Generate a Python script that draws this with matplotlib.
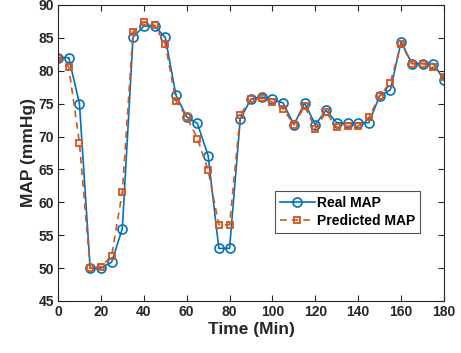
import numpy as np
import matplotlib
matplotlib.use('Agg')
import matplotlib.pyplot as plt

# Donnees (pas de 5 min)
time_min = np.arange(0, 181, 5)
real_map = [82, 82, 75, 50, 50, 50.9, 56, 85.1, 86.8, 86.8, 85.1, 76.3, 73.0,
            72.0, 67.1, 53.0, 53.0, 72.7, 75.7, 76.0, 75.7, 75.1, 71.8, 75.1,
            71.8, 74.0, 72.1, 72.0, 72.1, 72.1, 76.2, 77.1, 84.4, 81.1, 81.1,
            81.1, 78.6]
pred_map = [82, 80.6, 69.0, 50, 50.2, 51.85, 61.6, 85.9, 87.4, 86.9, 84.1, 75.4,
            73.0, 69.7, 64.9, 56.6, 56.6, 73.3, 75.7, 75.8, 75.25, 74.2, 71.8,
            74.6, 71.2, 73.7, 71.4, 71.6, 71.6, 72.9, 76.2, 78.2, 84.1, 81.1,
            81.1, 80.5, 79.0]

x_ticks = np.arange(0, 181, 20)
y_ticks = np.arange(45, 91, 5)

plt.rcParams['font.family'] = ['Liberation Sans', 'DejaVu Sans']
plt.rcParams['font.weight'] = 'bold'

fig = plt.figure(figsize=(4.61, 3.53), dpi=100)
ax = fig.add_axes([58/461, 52/353, 386/461, 296/353])

ax.plot(time_min, real_map, '-o', color='#0072BD', linewidth=1.2,
        markersize=6.5, markerfacecolor='none', markeredgewidth=1.2,
        label='Real MAP')
ax.plot(time_min, pred_map, '--s', color='#D95319', linewidth=1.2,
        markersize=4.5, markerfacecolor='none', markeredgewidth=1.3,
        label='Predicted MAP', dashes=(4, 3))

ax.set_xlim(0, 180)
ax.set_ylim(45, 90)
ax.set_xticks(x_ticks)
ax.set_yticks(y_ticks)
ax.tick_params(direction='in', top=True, right=True, length=4, width=0.8,
               labelsize=10, colors='#262626', pad=3)
for s in ax.spines.values():
    s.set_color('#262626')
    s.set_linewidth(0.8)

ax.set_xlabel('Time (Min)', fontsize=12.5, fontweight='bold', color='#262626', labelpad=2)
ax.set_ylabel('MAP (mmHg)', fontsize=12.5, fontweight='bold', color='#262626', labelpad=2)

leg = ax.legend(loc='upper left', bbox_to_anchor=(0.562, 0.372), borderaxespad=0,
                fancybox=False, edgecolor='#262626', fontsize=10,
                handlelength=2.5, borderpad=0.35, labelspacing=0.3, handletextpad=0.2)
leg.get_frame().set_linewidth(0.8)

fig.savefig('out.png', dpi=100)
